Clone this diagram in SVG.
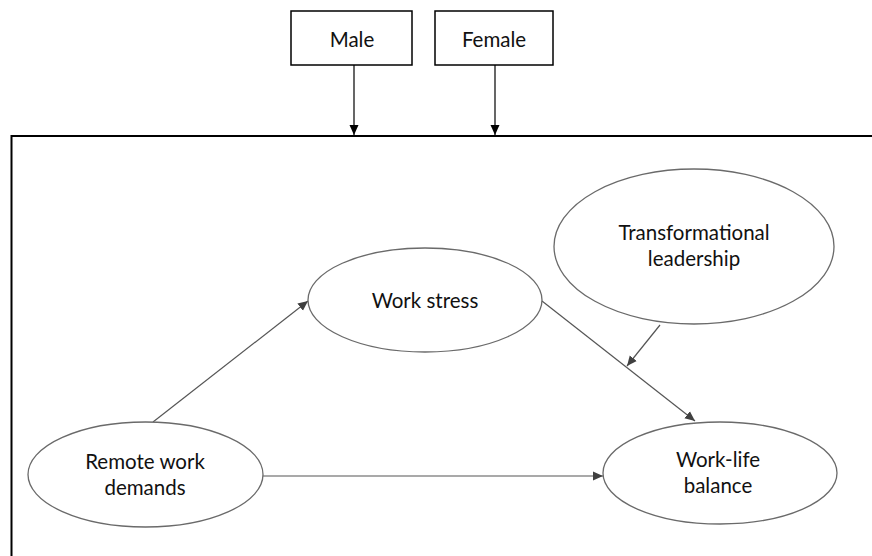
<svg xmlns="http://www.w3.org/2000/svg" width="872" height="556" viewBox="0 0 872 556">
<defs>
<style>
.t{font-family:Lato,"Liberation Sans",sans-serif;font-size:20.5px;fill:#111;text-anchor:middle}
.e{fill:#fff;stroke:#6a6a6a;stroke-width:1.3}
.b{fill:#fff;stroke:#000;stroke-width:1.5}
.c{stroke:#555;stroke-width:1.2;fill:none}
.k{stroke:#000;stroke-width:1.2;fill:none}
</style>
<marker id="ag" viewBox="0 0 10 10" refX="10" refY="5" markerWidth="10" markerHeight="10" markerUnits="userSpaceOnUse" orient="auto"><path d="M0,0.5 L10,5 L0,9.5 Z" fill="#404040"/></marker>
<marker id="ak" viewBox="0 0 10 10" refX="10" refY="5" markerWidth="10" markerHeight="10" markerUnits="userSpaceOnUse" orient="auto"><path d="M0,0.5 L10,5 L0,9.5 Z" fill="#000"/></marker>
</defs>
<rect width="872" height="556" fill="#fff"/>
<rect id="frame" x="11.5" y="136" width="900" height="500" fill="none" stroke="#000" stroke-width="2"/>
<g id="male"><rect class="b" x="291" y="11" width="121" height="54"/><text class="t" x="352" y="47">Male</text></g>
<g id="female"><rect class="b" x="435" y="11" width="118" height="54"/><text class="t" x="494" y="47">Female</text></g>
<g id="connectors">
<line class="k" x1="354" y1="65" x2="354" y2="135" marker-end="url(#ak)"/>
<line class="k" x1="495" y1="65" x2="495" y2="135" marker-end="url(#ak)"/>
<line class="c" x1="153" y1="422" x2="308" y2="301" marker-end="url(#ag)"/>
<line class="c" x1="263" y1="476" x2="603" y2="476" marker-end="url(#ag)"/>
<line class="c" x1="542" y1="301" x2="695" y2="421" marker-end="url(#ag)"/>
<line class="c" x1="660" y1="325" x2="627" y2="366" marker-end="url(#ag)"/>
</g>
<g id="work-stress"><ellipse class="e" cx="425" cy="300" rx="117" ry="52"/><text class="t" x="425" y="308">Work stress</text></g>
<g id="transformational-leadership"><ellipse class="e" cx="694" cy="246.5" rx="140" ry="77.5"/><text class="t" x="694" y="240">Transformational</text><text class="t" x="694" y="266">leadership</text></g>
<g id="remote-work-demands"><ellipse class="e" cx="145.5" cy="474.5" rx="117.5" ry="52.5"/><text class="t" x="145" y="469">Remote work</text><text class="t" x="145" y="495">demands</text></g>
<g id="work-life-balance"><ellipse class="e" cx="720" cy="473" rx="117" ry="51"/><text class="t" x="718" y="467">Work-life</text><text class="t" x="718" y="493">balance</text></g>
</svg>
